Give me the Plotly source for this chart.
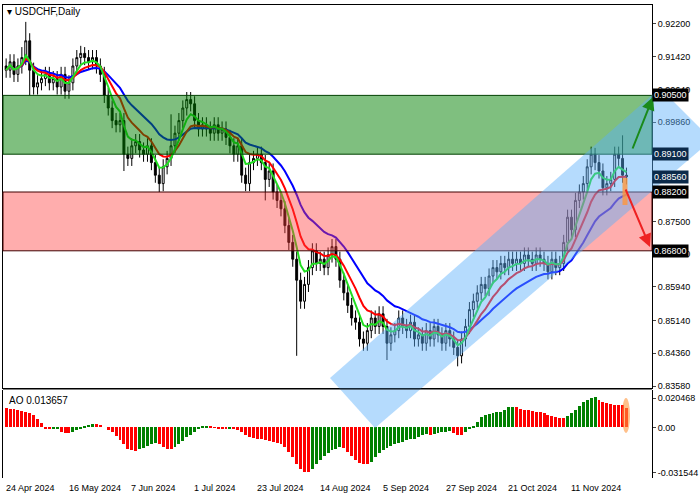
import plotly.graph_objects as go
import pandas as pd

closes = [.911,.913,.910,.912,.914, .918,.911,.907,.908,.909,
 .910,.908,.909,.907,.910, .906,.908,.912,.914,.915,
 .914,.913,.914,.912,.910, .905,.902,.899,.898,.899,
 .891,.890,.893,.894,.892, .891,.893,.889,.886,.884,
 .888,.890,.893,.896,.899, .902,.904,.903,.899,.897,
 .898,.897,.896,.898,.896, .897,.895,.893,.891,.893,
 .886,.884,.889,.890,.891, .889,.885,.887,.882,.880,
 .878,.874,.870,.866,.861, .856,.860,.864,.868,.865,
 .866,.864,.867,.869,.866, .861,.858,.855,.852,.851,
 .847,.846,.849,.852,.850, .853,.850,.846,.848,.849,
 .852,.850,.849,.851,.847, .848,.846,.849,.847,.850,
 .848,.846,.849,.847,.845, .843,.847,.850,.854,.856,
 .858,.860,.859,.862,.864, .863,.865,.864,.866,.865,
 .866,.865,.867,.866,.865, .867,.866,.865,.863,.866,
 .864,.865,.870,.876,.873, .880,.882,.884,.888,.891,
 .889,.887,.883,.884,.885, .891,.890,.886,.8856]
first_open = .912
special_high = {5: .9225, 4: .9165, 157: .8955, 150: .8925, 42: .9005, 20: .9165}
special_low = {74: .8430, 115: .8405, 97: .8420, 6: .9050, 30: .8870, 66: .8800, 39: .8820}
ao = [.0135,.013,.0128,.0125,.0115,.0105,.0098,.009,.006,.003,
 -.001,-.0012,-.0011,-.001,-.003,-.004,-.004,-.0035,-.002,-.0005,
 .001,.0018,.0025,.0022,.0015,.0,-.002,-.003,-.006,-.009,
 -.012,-.015,-.016,-.0165,-.0155,-.0145,-.013,-.012,-.011,-.012,
 -.014,-.015,-.0155,-.014,-.012,-.0095,-.007,-.005,-.003,-.001,
 .0005,.0012,.0008,.0002,-.0005,-.001,-.001,-.0005,-.001,-.002,
 -.003,-.005,-.0065,-.0075,-.008,-.0085,-.009,-.0095,-.010,-.011,
 -.012,-.014,-.017,-.021,-.026,-.029,-.031,-.0315,-.029,-.026,
 -.023,-.020,-.018,-.016,-.015,-.014,-.0145,-.017,-.020,-.023,
 -.025,-.0255,-.0256,-.024,-.021,-.018,-.016,-.0145,-.013,-.012,
 -.011,-.010,-.009,-.0085,-.008,-.007,-.0055,-.0045,-.005,-.0045,
 -.004,-.0035,-.003,-.0028,-.004,-.005,-.0052,-.003,-.001,.001,
 .004,.007,.009,.0095,.010,.0105,.011,.0125,.014,.0145,
 .014,.013,.0125,.012,.0115,.011,.0105,.010,.009,.008,
 .007,.0068,.0065,.008,.010,.0125,.015,.0175,.019,.0205,
 .021,.0195,.018,.017,.0165,.016,.0158,.0155,.013657]
date_labels = ["24 Apr 2024","16 May 2024","7 Jun 2024","1 Jul 2024","23 Jul 2024",
               "14 Aug 2024","5 Sep 2024","27 Sep 2024","21 Oct 2024","11 Nov 2024"]
date_idx = [0,16,32,48,64,80,96,112,128,144]
price_ticks = [0.92200,0.91420,0.90640,0.89860,0.87500,0.86720,0.85940,0.85140,0.84360,0.83580]
level_labels = [(0.90500,"black"),(0.89100,"#0b2a4a"),(0.88560,"#0b2a4a"),(0.88200,"black"),(0.86800,"black")]

n = len(closes)
x = list(range(n))
opens = [first_open] + closes[:-1]
highs = [special_high.get(i, max(o, c) + 0.0018) for i, (o, c) in enumerate(zip(opens, closes))]
lows = [special_low.get(i, min(o, c) - 0.0018) for i, (o, c) in enumerate(zip(opens, closes))]
s = pd.Series(closes)
ma_g = s.ewm(span=5).mean()
ma_r = s.ewm(span=10).mean()
ma_b = s.ewm(span=20).mean()
ao_col = ["#008000" if i > 0 and ao[i] > ao[i-1] else "#ff0000" for i in range(n)]

fig = go.Figure()
fig.add_trace(go.Candlestick(x=x, open=opens, high=highs, low=lows, close=closes,
    increasing=dict(line=dict(color="black", width=1), fillcolor="white"),
    decreasing=dict(line=dict(color="black", width=1), fillcolor="black"),
    whiskerwidth=0, showlegend=False, xaxis="x", yaxis="y"))
for m, col in [(ma_b, "#0000ff"), (ma_r, "#ff0000"), (ma_g, "#22dd22")]:
    fig.add_trace(go.Scatter(x=x, y=m, mode="lines", line=dict(color=col, width=2),
                             showlegend=False, xaxis="x", yaxis="y"))
fig.add_trace(go.Bar(x=x, y=ao, marker=dict(color=ao_col, line=dict(width=0)),
                     width=0.75, showlegend=False, xaxis="x", yaxis="y2"))

L, R, T, B = 3, 48, 5, 22
W, H = 700, 500
def px(xp): return (xp - L) / (W - L - R)
def py(yp): return (H - B - yp) / (H - T - B)

shapes = [
    dict(type="rect", xref="x domain", yref="y", x0=0, x1=1, y0=0.891, y1=0.905,
         fillcolor="rgba(0,128,0,0.5)", line=dict(color="#004000", width=1), layer="above"),
    dict(type="rect", xref="x domain", yref="y", x0=0, x1=1, y0=0.868, y1=0.882,
         fillcolor="rgba(255,60,60,0.42)", line=dict(color="#400000", width=1), layer="above"),
    dict(type="path", xref="paper", yref="paper", layer="above", line=dict(width=0),
         fillcolor="rgba(90,175,250,0.45)",
         path="M %f,%f L %f,%f L %f,%f L %f,%f L %f,%f Z" % (
             px(330), py(378), px(660), py(88), px(700), py(128), px(700), py(150), px(375), py(428))),
    dict(type="line", xref="paper", yref="paper", x0=px(625), y0=py(178), x1=px(625), y1=py(205),
         line=dict(color="rgba(255,150,60,0.8)", width=5), layer="above"),
    dict(type="circle", xref="paper", yref="paper", x0=px(622), x1=px(630), y0=py(398), y1=py(433),
         fillcolor="rgba(255,150,60,0.6)", line=dict(width=0), layer="above"),
    dict(type="line", xref="paper", yref="paper", x0=0, x1=1, y0=py(389), y1=py(389),
         line=dict(color="black", width=1)),
]
anns = [
    dict(xref="paper", yref="paper", x=px(653), y=py(97), ax=-21, ay=53, axref="pixel", ayref="pixel",
         showarrow=True, arrowhead=2, arrowsize=1.3, arrowwidth=2, arrowcolor="#1a8a1a", text=""),
    dict(xref="paper", yref="paper", x=px(650), y=py(247), ax=-25, ay=-59, axref="pixel", ayref="pixel",
         showarrow=True, arrowhead=2, arrowsize=1.3, arrowwidth=2, arrowcolor="#ee2222", text=""),
    dict(xref="paper", yref="paper", x=px(5), y=py(11), xanchor="left", yanchor="middle", showarrow=False,
         text="▾ USDCHF,Daily", font=dict(size=10, color="black")),
    dict(xref="paper", yref="paper", x=px(7), y=py(401), xanchor="left", yanchor="middle", showarrow=False,
         text="AO 0.013657", font=dict(size=10, color="black")),
]
for i, lab in zip(date_idx, date_labels):
    anns.append(dict(xref="x", yref="paper", x=i - 0.6, y=py(481), xanchor="left", yanchor="top",
                     showarrow=False, text=lab, font=dict(size=9, color="black")))
for v, bg in level_labels:
    anns.append(dict(xref="paper", yref="y", x=1.0, y=v, xanchor="left", yanchor="middle", showarrow=False,
                     text="%.5f" % v, bgcolor=bg, font=dict(size=9, color="white"), borderpad=1))

fig.update_layout(
    width=W, height=H, margin=dict(l=L, r=R, t=T, b=B, autoexpand=False),
    paper_bgcolor="white", plot_bgcolor="white", font=dict(family="Liberation Sans", size=9, color="black"),
    shapes=shapes, annotations=anns, bargap=0,
    xaxis=dict(range=[-0.8, 164.5], showgrid=False, showticklabels=False, rangeslider=dict(visible=False),
               showline=True, mirror=True, linecolor="black", zeroline=False, automargin=False),
    yaxis=dict(domain=[py(388), 1], range=[0.83534, 0.92652], side="right", tickvals=price_ticks,
               ticktext=["%.5f" % v for v in price_ticks], showgrid=False, showline=True, mirror=True,
               linecolor="black", ticks="outside", ticklen=3, zeroline=False, automargin=False),
    yaxis2=dict(domain=[0, py(390)], range=[-0.0355, 0.0262], side="right", anchor="x",
                tickvals=[0.020468, 0.0, -0.031544], ticktext=["0.020468", "0.00", "-0.031544"],
                showgrid=False, showline=True, mirror=True, linecolor="black", ticks="outside", ticklen=3,
                zeroline=False, automargin=False),
)
fig.write_html("out.html", config={"displayModeBar": False},
               post_script="document.body.style.margin='0';document.body.style.overflow='hidden';")
